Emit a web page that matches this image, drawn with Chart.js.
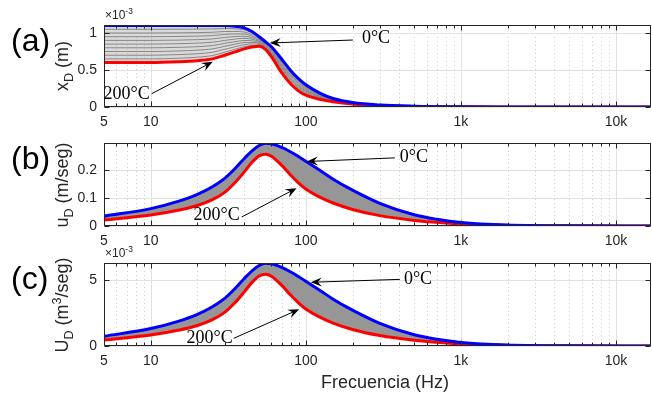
<!DOCTYPE html>
<html>
<head>
<meta charset="utf-8">
<script src="https://cdn.jsdelivr.net/npm/chart.js@4.4.0/dist/chart.umd.min.js"></script>
<style>
  body { margin: 0; background: #fff; }
  #wrap { position: relative; width: 652px; height: 394px; overflow: hidden; font-family: "Liberation Sans", Arial, sans-serif; }
  canvas { position: absolute; left: 0; top: 0; }
  .ylab { position: absolute; transform: translate(-50%, -50%) rotate(-90deg); white-space: nowrap; font-size: 18px; color: #262626; line-height: 1; }
  .panel { position: absolute; left: 11px; font-size: 32px; line-height: 1; transform: translateY(-50%); color: #000; }
  .exp { position: absolute; left: 105px; font-size: 12px; color: #262626; line-height: 1; }
  .xlab { position: absolute; left: 385px; top: 382px; transform: translate(-50%, -50%); font-size: 18px; color: #262626; white-space: nowrap; }
  sub, sup { font-size: 70%; line-height: 0; }
</style>
</head>
<body>
<div id="wrap">
  <canvas id="cA" width="652" height="394"></canvas>
  <canvas id="cB" width="652" height="394"></canvas>
  <canvas id="cC" width="652" height="394"></canvas>
  <div class="panel" style="top:40px">(a)</div>
  <div class="panel" style="top:158px">(b)</div>
  <div class="panel" style="top:278px">(c)</div>
  <div class="ylab" style="left:62px; top:66px">x<sub>D</sub> (m)</div>
  <div class="ylab" style="left:62px; top:185px">u<sub>D</sub> (m/seg)</div>
  <div class="ylab" style="left:62px; top:305px">U<sub>D</sub> (m<sup>3</sup>/seg)</div>
  <div class="exp" style="top:9px">×10<sup>-3</sup></div>
  <div class="exp" style="top:247px">×10<sup>-3</sup></div>
  <div class="xlab">Frecuencia (Hz)</div>
</div>
<script>
// x axis (Hz)
const xTicks = [5, 10, 100, 1000, 10000];
const xTickLabels = ['5', '10', '100', '1k', '10k'];

// (a) displacement, in units of 1e-3 m
const freqA = [5, 10, 15, 20, 25, 30, 35, 40, 45, 50, 55, 60, 70, 80, 90, 100, 125, 150, 200, 300, 500, 1000, 2000, 5000, 16800];
const xD_0C   = [1.10, 1.10, 1.10, 1.10, 1.10, 1.10, 1.09, 1.07, 1.02, 0.95, 0.88, 0.815, 0.645, 0.49, 0.38, 0.30, 0.18, 0.115, 0.06, 0.027, 0.011, 0.003, 0.001, 0.0002, 0];
const xD_200C = [0.60, 0.60, 0.61, 0.625, 0.65, 0.70, 0.745, 0.785, 0.81, 0.82, 0.78, 0.68, 0.46, 0.31, 0.215, 0.16, 0.10, 0.07, 0.04, 0.018, 0.007, 0.002, 0.0005, 0.0001, 0];
// grey curves (intermediate temperatures)
const freqGrey = [5, 10, 15, 20, 25, 30, 35, 40, 45, 50, 55, 60, 70, 80, 100, 150, 200];
const xD_grey = [
  [0.65, 0.65, 0.659, 0.673, 0.695, 0.74, 0.78, 0.814, 0.831, 0.833, 0.79, 0.694, 0.479, 0.328, 0.174, 0.075, 0.042],
  [0.70, 0.70, 0.708, 0.72, 0.74, 0.78, 0.814, 0.842, 0.852, 0.846, 0.80, 0.707, 0.497, 0.346, 0.188, 0.079, 0.044],
  [0.75, 0.75, 0.757, 0.768, 0.785, 0.82, 0.849, 0.871, 0.873, 0.859, 0.81, 0.721, 0.516, 0.364, 0.202, 0.084, 0.047],
  [0.80, 0.80, 0.806, 0.815, 0.83, 0.86, 0.883, 0.899, 0.894, 0.872, 0.82, 0.734, 0.534, 0.382, 0.216, 0.088, 0.049],
  [0.85, 0.85, 0.855, 0.863, 0.875, 0.90, 0.918, 0.928, 0.915, 0.885, 0.83, 0.748, 0.553, 0.40, 0.23, 0.093, 0.05],
  [0.90, 0.90, 0.904, 0.91, 0.92, 0.94, 0.952, 0.956, 0.936, 0.898, 0.84, 0.761, 0.571, 0.418, 0.244, 0.097, 0.052],
  [0.95, 0.95, 0.953, 0.958, 0.965, 0.98, 0.987, 0.985, 0.957, 0.911, 0.85, 0.775, 0.59, 0.436, 0.258, 0.102, 0.054],
  [1.00, 1.00, 1.002, 1.005, 1.01, 1.02, 1.021, 1.013, 0.978, 0.924, 0.86, 0.788, 0.608, 0.454, 0.272, 0.106, 0.056],
  [1.05, 1.05, 1.051, 1.053, 1.055, 1.06, 1.056, 1.042, 0.999, 0.937, 0.87, 0.802, 0.627, 0.472, 0.286, 0.111, 0.058]
];

// (b) velocity m/seg and (c) volume velocity in 1e-3 m3/seg
const freqB = [5, 10, 15, 20, 25, 30, 35, 40, 45, 50, 55, 60, 70, 80, 90, 100, 125, 150, 200, 300, 500, 700, 1000, 2000, 5000, 16800];
const uD_0C   = [0.035, 0.062, 0.088, 0.113, 0.14, 0.17, 0.205, 0.24, 0.268, 0.287, 0.295, 0.293, 0.280, 0.264, 0.247, 0.231, 0.196, 0.167, 0.128, 0.081, 0.040, 0.024, 0.0125, 0.0035, 0.0008, 0.0001];
const uD_200C = [0.021, 0.039, 0.056, 0.073, 0.094, 0.12, 0.155, 0.192, 0.227, 0.25, 0.256, 0.249, 0.216, 0.181, 0.153, 0.132, 0.101, 0.082, 0.059, 0.037, 0.020, 0.013, 0.007, 0.002, 0.0005, 0.0001];
const UD_0C   = [0.74, 1.32, 1.87, 2.40, 2.98, 3.61, 4.36, 5.10, 5.70, 6.10, 6.27, 6.23, 5.95, 5.61, 5.25, 4.91, 4.17, 3.55, 2.72, 1.72, 0.85, 0.51, 0.27, 0.074, 0.017, 0.002];
const UD_200C = [0.45, 0.83, 1.19, 1.55, 2.00, 2.55, 3.29, 4.08, 4.82, 5.31, 5.44, 5.29, 4.59, 3.85, 3.25, 2.81, 2.15, 1.74, 1.25, 0.79, 0.43, 0.28, 0.15, 0.043, 0.011, 0.002];

const yTicksA = [0, 0.5, 1], yLabelsA = ['0', '0.5', '1'];
const yTicksB = [0, 0.1, 0.2], yLabelsB = ['0', '0.1', '0.2'];
const yTicksC = [0, 5], yLabelsC = ['0', '5'];

// arrow notes: text anchor, arrow start, arrow tip (data coords)
const notesA = [
  {text: '0°C', align: 'left', tx: 230, ty: 0.93, x0: 201, y0: 0.905, x1: 58.6, y1: 0.865},
  {text: '200°C', align: 'right', tx: 9.85, ty: 0.176, x0: 10.15, y0: 0.18, x1: 25.1, y1: 0.61}
];
const notesB = [
  {text: '0°C', align: 'left', tx: 404, ty: 0.246, x0: 375, y0: 0.243, x1: 101.5, y1: 0.23},
  {text: '200°C', align: 'right', tx: 37.5, ty: 0.039, x0: 38.6, y0: 0.032, x1: 87.2, y1: 0.135}
];
const notesC = [
  {text: '0°C', align: 'left', tx: 429, ty: 5.08, x0: 404, y0: 5.05, x1: 107.7, y1: 4.83},
  {text: '200°C', align: 'right', tx: 33.8, ty: 0.61, x0: 34.3, y0: 0.58, x1: 90.6, y1: 2.78}
];

const AXIS = '#262626';
const tickFont = {family: '"Liberation Sans", Arial, sans-serif', size: 14};

// minor decade positions for dotted grid
var xMinor = [];
[1, 10, 100, 1000].forEach(function (d) {
  for (var m = 2; m <= 9; m++) {
    if (d * m > 5 && d * m < 16800) xMinor.push(d * m);
  }
});

function pts(freq, vals) {
  return freq.map(function (f, i) { return {x: f, y: vals[i]}; });
}

function arrow(ctx, x0, y0, x1, y1) {
  var ang = Math.atan2(y1 - y0, x1 - x0);
  ctx.beginPath();
  ctx.moveTo(x0, y0);
  ctx.lineTo(x1 - 6 * Math.cos(ang), y1 - 6 * Math.sin(ang));
  ctx.stroke();
  ctx.save();
  ctx.translate(x1, y1);
  ctx.rotate(ang);
  ctx.beginPath();
  ctx.moveTo(0, 0);
  ctx.lineTo(-11, -4.5);
  ctx.lineTo(-7, 0);
  ctx.lineTo(-11, 4.5);
  ctx.closePath();
  ctx.fill();
  ctx.restore();
}

function makeFrame(notes) {
  return {
    id: 'frame',
    beforeDraw: function (chart) {
      var ctx = chart.ctx, a = chart.chartArea, x = chart.scales.x, y = chart.scales.y;
      ctx.save();
      ctx.lineWidth = 1;
      ctx.strokeStyle = '#cfcfcf';
      ctx.setLineDash([1, 3]);
      xMinor.forEach(function (v) {
        var p = Math.round(x.getPixelForValue(v)) + 0.5;
        ctx.beginPath(); ctx.moveTo(p, a.top); ctx.lineTo(p, a.bottom); ctx.stroke();
      });
      ctx.setLineDash([]);
      ctx.strokeStyle = '#e2e2e2';
      xTicks.slice(1).forEach(function (v) {
        var p = Math.round(x.getPixelForValue(v)) + 0.5;
        ctx.beginPath(); ctx.moveTo(p, a.top); ctx.lineTo(p, a.bottom); ctx.stroke();
      });
      y.ticks.forEach(function (t) {
        var p = Math.round(y.getPixelForValue(t.value)) + 0.5;
        ctx.beginPath(); ctx.moveTo(a.left, p); ctx.lineTo(a.right, p); ctx.stroke();
      });
      ctx.restore();
    },
    afterDatasetsDraw: function (chart) {
      var ctx = chart.ctx, a = chart.chartArea, x = chart.scales.x, y = chart.scales.y;
      ctx.save();
      ctx.strokeStyle = AXIS;
      ctx.lineWidth = 1;
      var L = Math.round(a.left) + 0.5, R = Math.round(a.right) - 0.5;
      var T = Math.round(a.top) + 0.5, B = Math.round(a.bottom) - 0.5;
      ctx.strokeRect(L, T, R - L, B - T);
      // tick marks pointing inwards
      ctx.beginPath();
      xTicks.forEach(function (v) {
        var p = Math.round(x.getPixelForValue(v)) + 0.5;
        ctx.moveTo(p, B); ctx.lineTo(p, B - 5);
        ctx.moveTo(p, T); ctx.lineTo(p, T + 5);
      });
      xMinor.forEach(function (v) {
        var p = Math.round(x.getPixelForValue(v)) + 0.5;
        ctx.moveTo(p, B); ctx.lineTo(p, B - 3);
        ctx.moveTo(p, T); ctx.lineTo(p, T + 3);
      });
      y.ticks.forEach(function (t) {
        var p = Math.round(y.getPixelForValue(t.value)) + 0.5;
        ctx.moveTo(L, p); ctx.lineTo(L + 5, p);
        ctx.moveTo(R, p); ctx.lineTo(R - 5, p);
      });
      ctx.stroke();

      // annotations
      ctx.strokeStyle = '#000';
      ctx.fillStyle = '#000';
      ctx.font = '18px "Liberation Serif", "Times New Roman", serif';
      ctx.textBaseline = 'middle';
      notes.forEach(function (n) {
        ctx.textAlign = n.align;
        ctx.fillText(n.text, x.getPixelForValue(n.tx), y.getPixelForValue(n.ty));
        arrow(ctx, x.getPixelForValue(n.x0), y.getPixelForValue(n.y0),
              x.getPixelForValue(n.x1), y.getPixelForValue(n.y1));
      });
      ctx.restore();
    }
  };
}

function makeChart(id, datasets, yMax, yTicks, yLabels, top, bottom, notes) {
  return new Chart(document.getElementById(id), {
    type: 'line',
    data: {datasets: datasets},
    options: {
      responsive: false,
      animation: false,
      layout: {padding: {top: top, right: 1, left: 0, bottom: 0}},
      elements: {
        point: {radius: 0},
        line: {cubicInterpolationMode: 'monotone', borderCapStyle: 'round'}
      },
      plugins: {legend: {display: false}, tooltip: {enabled: false}},
      scales: {
        x: {
          type: 'logarithmic', min: 5, max: 16800,
          afterBuildTicks: function (s) { s.ticks = xTicks.map(function (v) { return {value: v}; }); },
          afterFit: function (s) { s.height = 394 - bottom; },
          grid: {display: false, drawTicks: false},
          border: {display: false},
          ticks: {
            padding: 7, color: AXIS, font: tickFont, maxRotation: 0, autoSkip: false,
            callback: function (v, i) { return xTickLabels[i]; }
          }
        },
        y: {
          min: 0, max: yMax,
          afterBuildTicks: function (s) { s.ticks = yTicks.map(function (v) { return {value: v}; }); },
          afterFit: function (s) { s.width = 104; },
          grid: {display: false, drawTicks: false},
          border: {display: false},
          ticks: {
            padding: 7, color: AXIS, font: tickFont,
            callback: function (v, i) { return yLabels[i]; }
          }
        }
      }
    },
    plugins: [makeFrame(notes)]
  });
}

function curves(freq, blue, red, band) {
  return [
    {data: pts(freq, blue), borderColor: '#0000ff', borderWidth: 3, order: 0, fill: false},
    {data: pts(freq, red), borderColor: '#ff0000', borderWidth: 3, order: 1, fill: {target: 0}, backgroundColor: band}
  ];
}

// (a) with separate grey lines
var setsA = curves(freqA, xD_0C, xD_200C, 'rgba(150,150,150,0.35)');
xD_grey.forEach(function (g) {
  setsA.push({data: pts(freqGrey, g), borderColor: 'rgba(105,105,105,0.85)', borderWidth: 1, order: 2, fill: false});
});

makeChart('cA', setsA, 1.108, yTicksA, yLabelsA, 25, 107, notesA);
makeChart('cB', curves(freqB, uD_0C, uD_200C, 'rgb(150,150,150)'), 0.296, yTicksB, yLabelsB, 143, 226, notesB);
makeChart('cC', curves(freqB, UD_0C, UD_200C, 'rgb(150,150,150)'), 6.29, yTicksC, yLabelsC, 263, 346, notesC);
</script>
</body>
</html>
